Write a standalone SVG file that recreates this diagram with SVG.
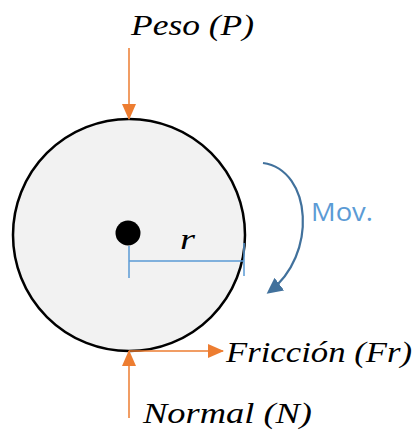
<svg xmlns="http://www.w3.org/2000/svg" width="417" height="435" viewBox="0 0 417 435">
<style>
.lbl{font-family:"Liberation Serif","DejaVu Serif",serif;font-style:italic;font-size:30px;fill:#000}
.force{stroke:#ed7d31;stroke-width:1.5;fill:none}
.rad{stroke:#5b9bd5;stroke-width:1.5;fill:none}
</style>
<defs>
<marker id="ab" markerWidth="16" markerHeight="16" refX="13" refY="8" orient="auto" markerUnits="userSpaceOnUse" viewBox="0 0 16 16"><path d="M0,0 L16,8 L0,16 Z" fill="#41719c"/></marker>
<marker id="aoL" markerWidth="16" markerHeight="14" refX="15" refY="7" orient="auto" markerUnits="userSpaceOnUse" viewBox="0 0 16 14"><path d="M0,0 L16,7 L0,14 Z" fill="#ed7d31"/></marker>
</defs>
<g id="wheel">
<circle cx="129" cy="235" r="116" fill="#f2f2f2" stroke="#000" stroke-width="2.5"/>
<circle cx="128" cy="233" r="12.5" fill="#000"/>
</g>
<g id="radius">
<path class="rad" d="M129,246 V278 M129,261 H244 M244,243 V276"/>
<text class="lbl" x="180" y="249" textLength="15" lengthAdjust="spacingAndGlyphs">r</text>
</g>
<g id="connectors">
<line class="force" x1="129" y1="48" x2="129" y2="119" marker-end="url(#aoL)"/>
<line class="force" x1="129" y1="351" x2="223" y2="351" marker-end="url(#aoL)"/>
<line class="force" x1="129" y1="418" x2="129" y2="351" marker-end="url(#aoL)"/>
<path d="M263,163 C312,170 318,255 269,292" stroke="#41719c" stroke-width="2.2" fill="none" marker-end="url(#ab)"/>
</g>
<g id="peso"><text class="lbl" x="131" y="35" textLength="123" lengthAdjust="spacingAndGlyphs">Peso (P)</text></g>
<g id="friccion"><text class="lbl" x="226" y="362" textLength="186" lengthAdjust="spacingAndGlyphs">Fricción (Fr)</text></g>
<g id="normal"><text class="lbl" x="143" y="423" textLength="169" lengthAdjust="spacingAndGlyphs">Normal (N)</text></g>
<g id="mov"><text x="311" y="221" font-family="'Open Sans','Liberation Sans',sans-serif" font-size="25" fill="#5b9bd5" textLength="62" lengthAdjust="spacingAndGlyphs">Mov.</text></g>
</svg>
